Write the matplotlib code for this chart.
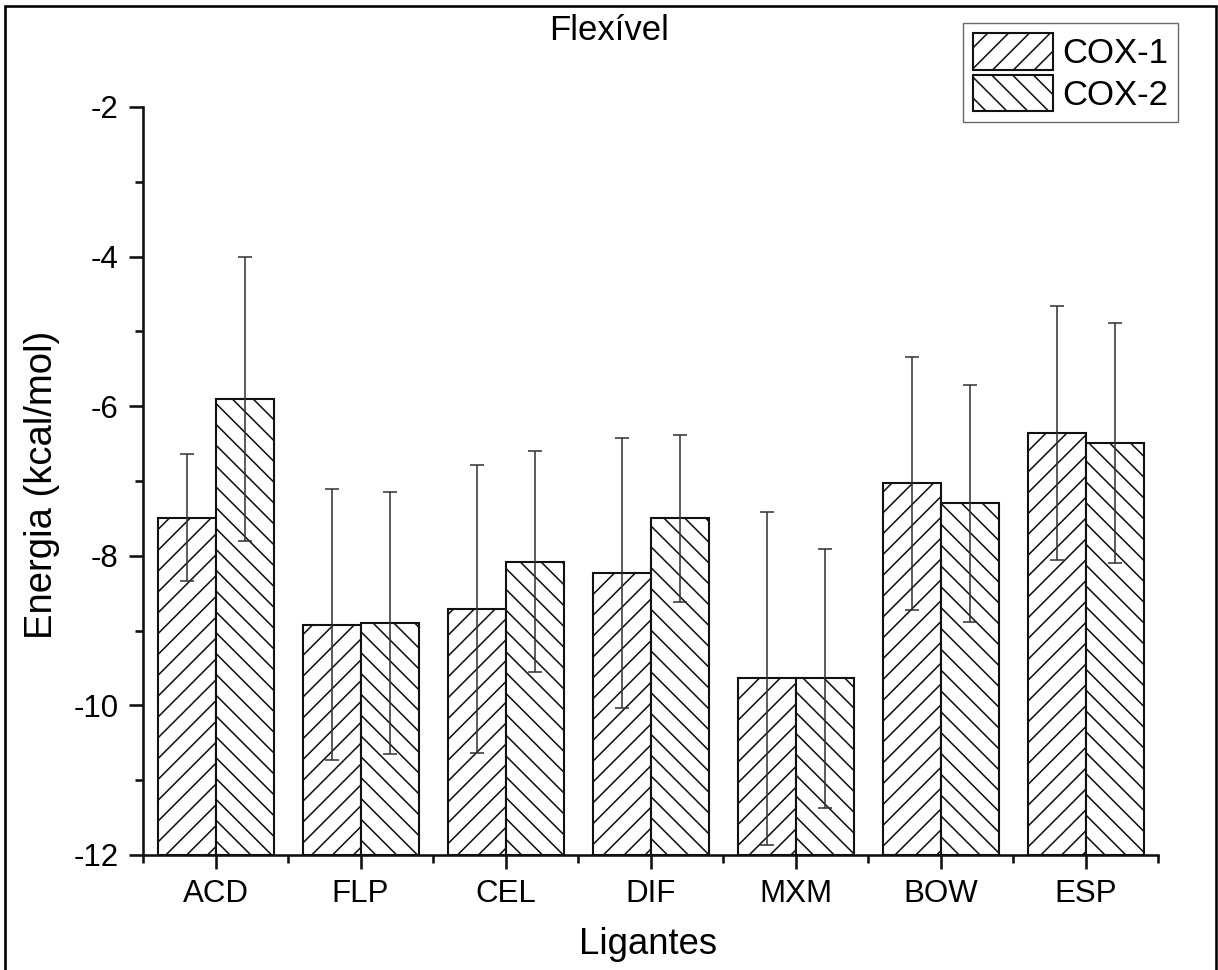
import matplotlib
matplotlib.use("Agg")
import matplotlib.pyplot as plt
import numpy as np
from matplotlib.patches import Rectangle
from matplotlib.ticker import MultipleLocator, FixedLocator

categories = ['ACD', 'FLP', 'CEL', 'DIF', 'MXM', 'BOW', 'ESP']
cox1 = [-7.49, -8.92, -8.71, -8.23, -9.64, -7.03, -6.36]
cox1_err = [0.85, 1.81, 1.93, 1.81, 2.22, 1.69, 1.70]
cox2 = [-5.90, -8.90, -8.08, -7.50, -9.64, -7.30, -6.49]
cox2_err = [1.90, 1.75, 1.48, 1.12, 1.73, 1.59, 1.60]
series_names = ['COX-1', 'COX-2']
y_ticks = [-12, -10, -8, -6, -4, -2]

plt.rcParams['font.family'] = ['Liberation Sans', 'DejaVu Sans']
plt.rcParams['axes.unicode_minus'] = False
plt.rcParams['hatch.linewidth'] = 0.9
plt.rcParams['hatch.color'] = '#111111'

DPI = 125
fig = plt.figure(figsize=(1218 / DPI, 970 / DPI), dpi=DPI)
ax = fig.add_axes([143 / 1218, 1 - 855 / 970, (1158 - 143) / 1218, (855 - 107) / 970])

ymin, ymax = -12, -2
x = np.arange(len(categories))
w = 0.4
base = ymin

h1 = np.array(cox1) - base
h2 = np.array(cox2) - base
ax.bar(x - w / 2, h1, width=w, bottom=base, color='white', edgecolor='#111111',
       linewidth=1.2, hatch='//', label=series_names[0], zorder=2)
ax.bar(x + w / 2, h2, width=w, bottom=base, color='white', edgecolor='#111111',
       linewidth=1.2, hatch='\\\\', label=series_names[1], zorder=2)

ax.errorbar(x - w / 2, cox1, yerr=cox1_err, fmt='none', ecolor='#333333',
            elinewidth=0.9, capsize=4.3, capthick=0.9, zorder=3)
ax.errorbar(x + w / 2, cox2, yerr=cox2_err, fmt='none', ecolor='#333333',
            elinewidth=0.9, capsize=4.3, capthick=0.9, zorder=3)

ax.set_xlim(-0.5, len(categories) - 0.5)
ax.set_ylim(ymin, ymax)
ax.set_xticks(x)
ax.set_xticklabels(categories)
ax.xaxis.set_minor_locator(FixedLocator(np.arange(-0.5, len(categories), 1.0)))
ax.set_yticks(y_ticks)
ax.set_yticklabels([str(v) for v in y_ticks])
ax.yaxis.set_minor_locator(MultipleLocator(1))

for s in ['top', 'right']:
    ax.spines[s].set_visible(False)
for s in ['left', 'bottom']:
    ax.spines[s].set_linewidth(1.5)
    ax.spines[s].set_color('#111111')

ax.tick_params(axis='both', which='major', direction='out', length=8, width=1.5,
               labelsize=18, pad=6, color='#111111')
ax.tick_params(axis='both', which='minor', direction='out', length=4.5, width=1.5,
               color='#111111')

ax.set_ylabel('Energia (kcal/mol)', fontsize=22)
ax.yaxis.label.set_verticalalignment('center')
ax.yaxis.set_label_coords((42 - 143) / 1015, (855 - 485) / 748)
ax.set_xlabel('Ligantes', fontsize=21)
ax.xaxis.label.set_verticalalignment('center')
ax.xaxis.set_label_coords((648 - 143) / 1015, (855 - 944) / 748)

fig.text(0.5, 1 - 31 / 970, 'Flexível', ha='center', va='center', fontsize=20)

leg = ax.legend(loc='upper left', bbox_to_anchor=(963 / 1218, 1 - 23 / 970),
                bbox_transform=fig.transFigure, fontsize=20, frameon=True,
                fancybox=False, edgecolor='#444444', handlelength=2.3,
                handleheight=1.25, labelspacing=0.12, handletextpad=0.25,
                borderpad=0.3, borderaxespad=0)
leg.get_frame().set_linewidth(0.8)
for p in leg.get_patches():
    p.set_linewidth(1.2)

border = Rectangle((5 / 1218, -0.02), (1216 - 5) / 1218, 1.02 - 6 / 970,
                   transform=fig.transFigure, fill=False, edgecolor='black',
                   linewidth=1.5)
fig.patches.append(border)

fig.savefig('out.png', dpi=DPI)
